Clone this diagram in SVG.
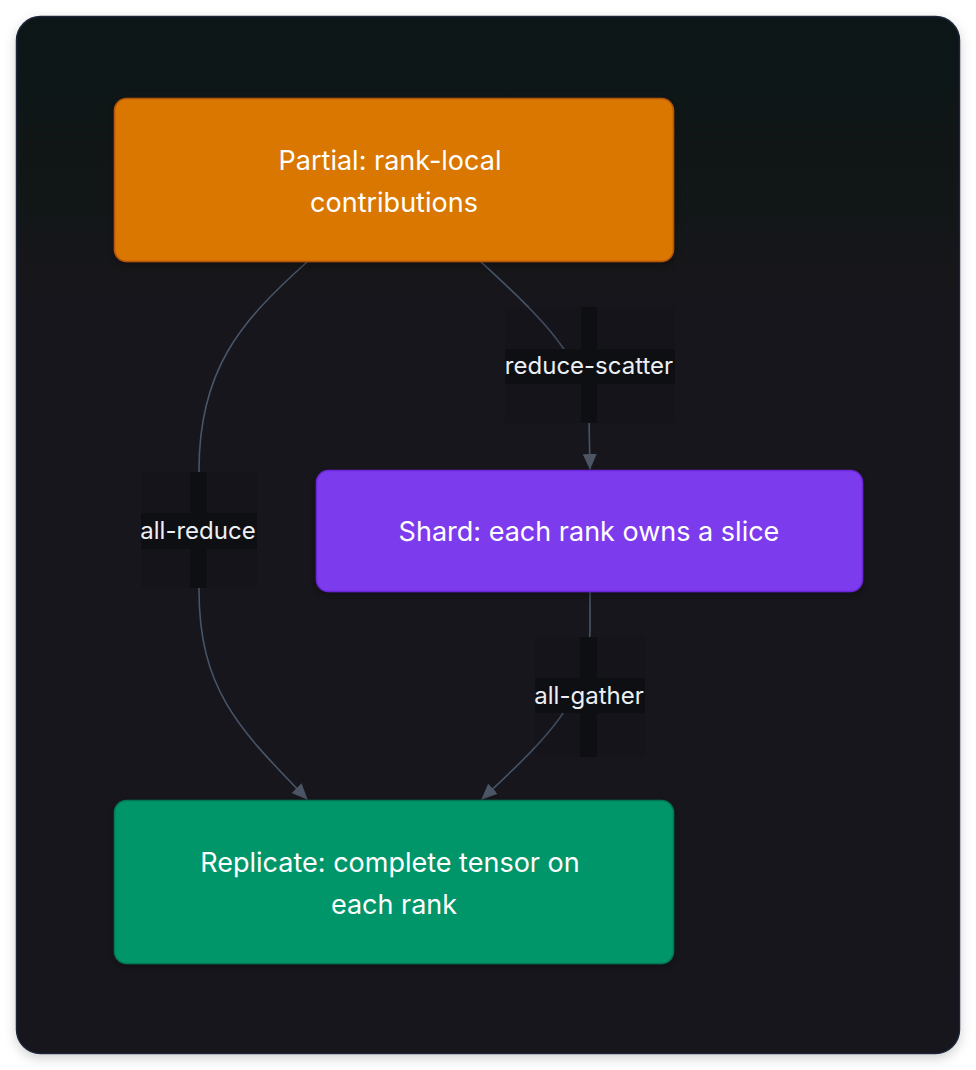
<svg xmlns="http://www.w3.org/2000/svg" width="976" height="1070" viewBox="0 0 976 1070">
<defs>
<linearGradient id="bg" x1="0" y1="0" x2="0" y2="1">
<stop offset="0" stop-color="#111318"/>
<stop offset="1" stop-color="#15141f"/>
</linearGradient>
<filter id="cardShadow" x="-10%" y="-10%" width="120%" height="120%">
<feDropShadow dx="0" dy="4" stdDeviation="6" flood-color="#000" flood-opacity="0.18"/>
</filter>
<filter id="nodeShadow" x="-10%" y="-20%" width="120%" height="140%">
<feDropShadow dx="0" dy="3" stdDeviation="5" flood-color="#000" flood-opacity="0.35"/>
</filter>
<marker id="arrowL" viewBox="0 0 16 14" refX="15" refY="7" markerWidth="16" markerHeight="14" markerUnits="userSpaceOnUse" orient="auto">
<path d="M0,0 L16,7 L0,14 z" fill="#4b5563"/>
</marker>
</defs>
<style>
.edge{fill:none;stroke:#475569;stroke-width:1.6}
.lblbg{fill:#0e0f13}
.lblfaint{fill:#0e0f13;opacity:0.15}
.lbl{font-family:Inter,"Liberation Sans",sans-serif;font-size:24px;fill:#eceff3;text-anchor:middle}
.ntxt{font-family:Inter,"Liberation Sans",sans-serif;font-size:27px;fill:#ffffff;text-anchor:middle}
</style>
<rect x="0" y="0" width="976" height="1070" fill="#ffffff"/>
<rect x="16.5" y="16.5" width="943" height="1037" rx="24" fill="url(#bg)" stroke="#1e2738" stroke-width="1.5" filter="url(#cardShadow)"/>

<g id="connectors">
<path class="edge" d="M307,262 C240,322 199,370 199,470 L199,590 C199,690 240,730 307,799" marker-end="url(#arrowL)"/>
<path class="edge" d="M481,262 C535,312 589,360 589,420 L590,469" marker-end="url(#arrowL)"/>
<path class="edge" d="M590,592 L590,630 C589,700 545,740 482,799" marker-end="url(#arrowL)"/>
</g>

<g id="label-all-reduce">
<rect class="lblfaint" x="141" y="472" width="116" height="116"/>
<rect class="lblbg" x="190" y="472" width="17" height="116"/>
<rect class="lblbg" x="141" y="513" width="116" height="36"/>
<text class="lbl" x="198" y="539">all-reduce</text>
</g>
<g id="label-reduce-scatter">
<rect class="lblfaint" x="505" y="307" width="170" height="116"/>
<rect class="lblbg" x="581" y="307" width="16" height="116"/>
<rect class="lblbg" x="505" y="349" width="170" height="35"/>
<text class="lbl" x="589" y="374">reduce-scatter</text>
</g>
<g id="label-all-gather">
<rect class="lblfaint" x="535" y="637" width="110" height="120"/>
<rect class="lblbg" x="580" y="637" width="17" height="120"/>
<rect class="lblbg" x="535" y="678" width="110" height="35"/>
<text class="lbl" x="589" y="704">all-gather</text>
</g>

<g id="node-partial">
<rect x="114.5" y="98.5" width="559" height="163" rx="12" fill="#d97706" stroke="#b4530a" stroke-width="1.5" filter="url(#nodeShadow)"/>
<text class="ntxt" x="390" y="170">Partial: rank-local</text>
<text class="ntxt" x="394" y="212">contributions</text>
</g>
<g id="node-shard">
<rect x="316.5" y="470.5" width="546" height="121" rx="12" fill="#7c3aed" stroke="#6d28d9" stroke-width="1.5" filter="url(#nodeShadow)"/>
<text class="ntxt" x="589" y="541">Shard: each rank owns a slice</text>
</g>
<g id="node-replicate">
<rect x="114.5" y="800.5" width="559" height="163" rx="12" fill="#059669" stroke="#047857" stroke-width="1.5" filter="url(#nodeShadow)"/>
<text class="ntxt" x="390" y="872">Replicate: complete tensor on</text>
<text class="ntxt" x="394" y="914">each rank</text>
</g>
</svg>
